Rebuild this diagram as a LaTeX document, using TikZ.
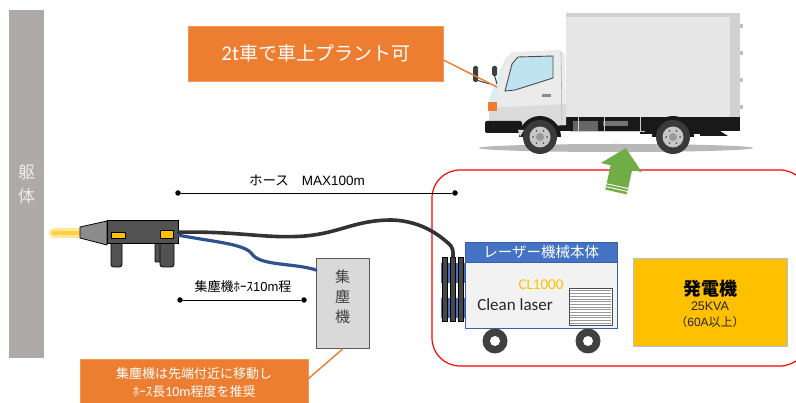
\documentclass[tikz,border=0pt]{standalone}
\usepackage{fontspec}
\setmainfont{Noto Sans CJK JP}
\newfontfamily\calfont{Carlito}
\newfontfamily\arialfont{Liberation Sans}
\definecolor{wallgray}{HTML}{AEAAAA}
\definecolor{orng}{HTML}{ED7D31}
\definecolor{mblue}{HTML}{4472C4}
\definecolor{hoseblue}{HTML}{2F528F}
\definecolor{gen}{HTML}{FFC000}
\definecolor{grn}{HTML}{70AD47}
\definecolor{gunyel}{HTML}{FFC000}
\definecolor{boxgray}{HTML}{E6E6E6}
\definecolor{glass}{HTML}{BFE4EF}
\definecolor{tire}{HTML}{3A3A3A}
\usetikzlibrary{calc}
\tikzset{
  obox/.style={fill=orng, draw=orng!80!white, inner sep=0pt, text=white, align=center},
  dimline/.style={line width=0.8pt, black},
  dimdot/.style={fill=black, circle, inner sep=0pt, minimum size=5.5pt},
  leader/.style={orng, line width=1.4pt},
  hosek/.style={line width=3.6pt, black!80, line cap=round},
  hoseb/.style={line width=3.2pt, hoseblue, line cap=round},
  coilbar/.style={fill=black!72, draw=black, line width=0.6pt},
}
\begin{document}
\begin{tikzpicture}[x=1pt,y=-1pt]
\useasboundingbox (0,0) rectangle (796,403);
\fill[white] (0,0) rectangle (796,403);

% structure wall
\node[fill=wallgray, minimum width=35pt, minimum height=348pt, inner sep=0pt, anchor=north west] (wall) at (9,10) {};
\node[text=white!92!black, font=\fontsize{17}{24}\selectfont, align=center] (walltext) at (26.5,184) {躯\\体};

% truck shadow
\fill[black!28] (616,148) ellipse (137pt and 4pt);
% cargo box
\fill[boxgray] (566,13) rectangle (740,118);
\fill[black!18] (566,13) rectangle (740,17);
\fill[black!18] (730,17) rectangle (740,118);
\foreach \yy in {24,51,78,105} \fill[black!25] (740,\yy) rectangle (742.5,\yy+4);
% chassis
\fill[black!90] (520,117) rectangle (740,131);
\fill[black!90] (640,131) rectangle (700,134);
\fill[black!90] (700,131) -- (720,131) -- (728,136) -- (700,136) -- cycle;
\fill[black!60] (573,121) rectangle (598,131);
\fill[black!55] (603,121) rectangle (628,126);
\draw[white!80!black, line width=0.6pt] (578,117) -- (578,131) (604,117) -- (604,131) (640,117) -- (640,131) (570,131) -- (645,131);
% cab
\fill[black!8] (489,128) -- (489,100) -- (494,87) -- (500,70) -- (506,58) -- (512,52) -- (560,50) -- (565,54) -- (566,125) -- cycle;
\fill[glass!60] (494,87) -- (500,70) -- (506,58) -- (509,56) -- (503,70) -- (497,90) -- (496,110) -- (490,110) -- (489,100) -- cycle;
\fill[black!14] (489,108) -- (566,104) -- (566,125) -- (489,128) -- cycle;
\fill[glass, draw=black!70, line width=0.9pt] (505,91) -- (512,64) -- (518,57) -- (553,56) -- (553,78) -- (515,90) -- cycle;
\draw[black!30, line width=0.6pt] (561,52) -- (562,120);
\fill[black!45] (542,94) rectangle (551,97);
\fill[orng] (488,102) rectangle (497,111);
% mirrors
\draw[black!75, line width=1pt] (476,80) -- (490,84) (494,74) -- (497,84);
\fill[black!75, rounded corners=1.5pt] (473,66) rectangle (478,82);
\fill[black!75, rounded corners=1.5pt] (492,66) rectangle (497,76);
% bumper and wheel arches
\fill[black!90, rounded corners=2pt] (485,121) rectangle (522,133);
\fill[black!90] (519,137) arc (180:0:21pt) -- cycle;
\fill[black!90] (652,137) arc (180:0:21pt) -- cycle;
\fill[white!85!black] (520,137) -- (518,130) -- (524,130) -- cycle;
% wheels
\foreach \wx in {540,673}{
  \fill[tire] (\wx,137) circle (17pt);
  \fill[black!22] (\wx,137) circle (10.5pt);
  \fill[black!40] (\wx,137) circle (4pt);
  \foreach \a in {0,60,...,300} \fill[black!65] ($(\wx,137)+(\a:7pt)$) circle (1pt);
}

% top note
\node[obox, minimum width=255pt, minimum height=55pt, anchor=north west, font=\fontsize{19}{22}\selectfont] (note) at (188,26) {{\calfont\fontsize{21}{22}\selectfont 2t}車で車上プラント可};
\coordinate (cab) at (497,87);
\draw[leader] (note.east|-443,60) -- (cab);

% work area
\draw[red, line width=1.2pt, rounded corners=28pt] (432,170) rectangle (808,366);

% green arrow
\begin{scope}[shift={(616,192)}, rotate=-12.5]
  \fill[grn] (0,-45) -- (21,-25) -- (11,-25) -- (11,0) -- (-11,0) -- (-11,-25) -- (-21,-25) -- cycle;
  \draw[white, line width=0.9pt] (-12,-6) -- (12,-6) (-12,-3) -- (12,-3);
\end{scope}

% dimension: main hose
\node[dimdot] (h1) at (178,193) {};
\node[dimdot] (h2) at (455,193) {};
\draw[dimline] (h1) -- (h2);
\node[font=\fontsize{13.5}{15}\selectfont] (hoselbl) at (307,180) {ホース\hspace{13pt}{\arialfont MAX100m}};

% laser head
\node[inner sep=0pt, minimum width=71pt, minimum height=22pt, anchor=north west] (gun) at (107,221) {};
\fill[gunyel!40, rounded corners=2pt] (48,233) -- (52,228) -- (82,228) -- (82,238) -- (52,238) -- cycle;
\fill[gunyel!75] (52,231) rectangle (82,235);
\draw[black, line width=0.8pt, fill=black!45] (80,227) -- (107,221) -- (107,245) -- (80,238) -- cycle;
\draw[black, line width=0.8pt, fill=black!68, rounded corners=1pt] (155,240) rectangle (161,262);
\draw[black, line width=0.8pt, fill=black!68, rounded corners=2.5pt] (111,240) rectangle (122,267);
\draw[black, line width=0.8pt, fill=black!68, rounded corners=2.5pt] (160,240) rectangle (174,267);
\draw[black, line width=1pt, fill=black!68] (gun.north west) rectangle (gun.south east);
\draw[black, line width=0.7pt, fill=gunyel] (111,232) rectangle (125,238);
\draw[black, line width=0.7pt, fill=gunyel] (160,230) rectangle (173,238);

% dust collector
\node[fill=black!15, draw=black!65, line width=0.8pt, minimum width=53pt, minimum height=90pt, inner sep=0pt, anchor=north west] (dust) at (316,258) {};
\node[text=black!75, font=\fontsize{15}{20}\selectfont, align=center] (dusttext) at (342.5,297) {集\\塵\\機};

% laser unit coil
\fill[mblue] (441,263) rectangle (466,283);
\fill[mblue] (441,298) rectangle (466,318);
\node[coilbar, minimum width=4.5pt, minimum height=64pt, inner sep=0pt, anchor=north] (c1) at (445,257) {};
\node[coilbar, minimum width=4.5pt, minimum height=64pt, inner sep=0pt, anchor=north] (c2) at (453,257) {};
\node[coilbar, minimum width=4.5pt, minimum height=64pt, inner sep=0pt, anchor=north] (c3) at (461,257) {};

% hoses
\draw[hoseb] ($(gun.east)+(0,3)$) .. controls (215,242) and (245,244) .. (252,254)
  .. controls (260,266) and (295,263) .. (dust.north west |- 0,270);
\draw[hosek] (gun.east) .. controls (240,231) and (265,239) .. (305,236)
  .. controls (340,233) and (355,220) .. (392,220)
  .. controls (422,221) and (440,236) .. (448,243) .. controls (454,248) and (453,252) .. (c2.north);

% dimension: collector hose
\node[dimdot] (d1) at (180,300) {};
\node[dimdot] (d2) at (304,300) {};
\draw[dimline] (d1) -- (d2);
\node[font=\fontsize{13}{15}\selectfont] (dustlbl) at (243,287) {集塵機ﾎｰｽ{\arialfont 10m}程};

% bottom note
\node[obox, minimum width=228pt, minimum height=46pt, anchor=north west, font=\fontsize{13}{18}\selectfont] (note2) at (80,359) {集塵機は先端付近に移動し\\ﾎｰｽ長{\calfont\fontsize{14}{18}\selectfont 10m}程度を推奨};
\draw[leader] (308,379) -- (dust.south);

% laser unit
\node[fill=mblue, draw=mblue!85!black, minimum width=152pt, minimum height=20pt, inner sep=0pt, anchor=north west, text=white, font=\fontsize{14.5}{16}\selectfont] (head) at (465,242) {レーザー機械本体};
\node[fill=black!5, draw=mblue!85!black, line width=0.9pt, minimum width=152pt, minimum height=66pt, inner sep=0pt, anchor=north west] (unit) at (465,262) {};
\node[text=gen, font=\calfont\fontsize{15}{16}\selectfont] (model) at (541,285) {CL1000};
\node[text=black!85, font=\calfont\fontsize{17}{18}\selectfont] (brand) at (515,305) {Clean laser};
\node[fill=white, draw=black!70, line width=0.8pt, minimum width=43pt, minimum height=37pt, inner sep=0pt, anchor=north west] (vent) at (569,288) {};
\foreach \k in {1,...,13} \draw[black!40, line width=0.5pt] (570,288+2.7*\k) -- (611,288+2.7*\k);
\foreach \wx in {495,588}{
  \fill[black!75] (\wx,341) circle (12.5pt);
  \fill[white] (\wx,341) circle (5pt);
}

% generator
\node[fill=gen, draw=mblue!45, line width=0.8pt, minimum width=154pt, minimum height=88pt, inner sep=0pt, anchor=north west] (genbox) at (633,258) {};
\node[font=\bfseries\fontsize{18}{20}\selectfont] (gentitle) at (710,289) {発電機};
\node[font=\arialfont\fontsize{12.5}{14}\selectfont, text=black!85] (genkva) at (710,306) {25KVA};
\node[font=\fontsize{12}{14}\selectfont, text=black!85] (genamp) at (710,322) {（{\arialfont 60A}以上）};
\end{tikzpicture}
\end{document}
